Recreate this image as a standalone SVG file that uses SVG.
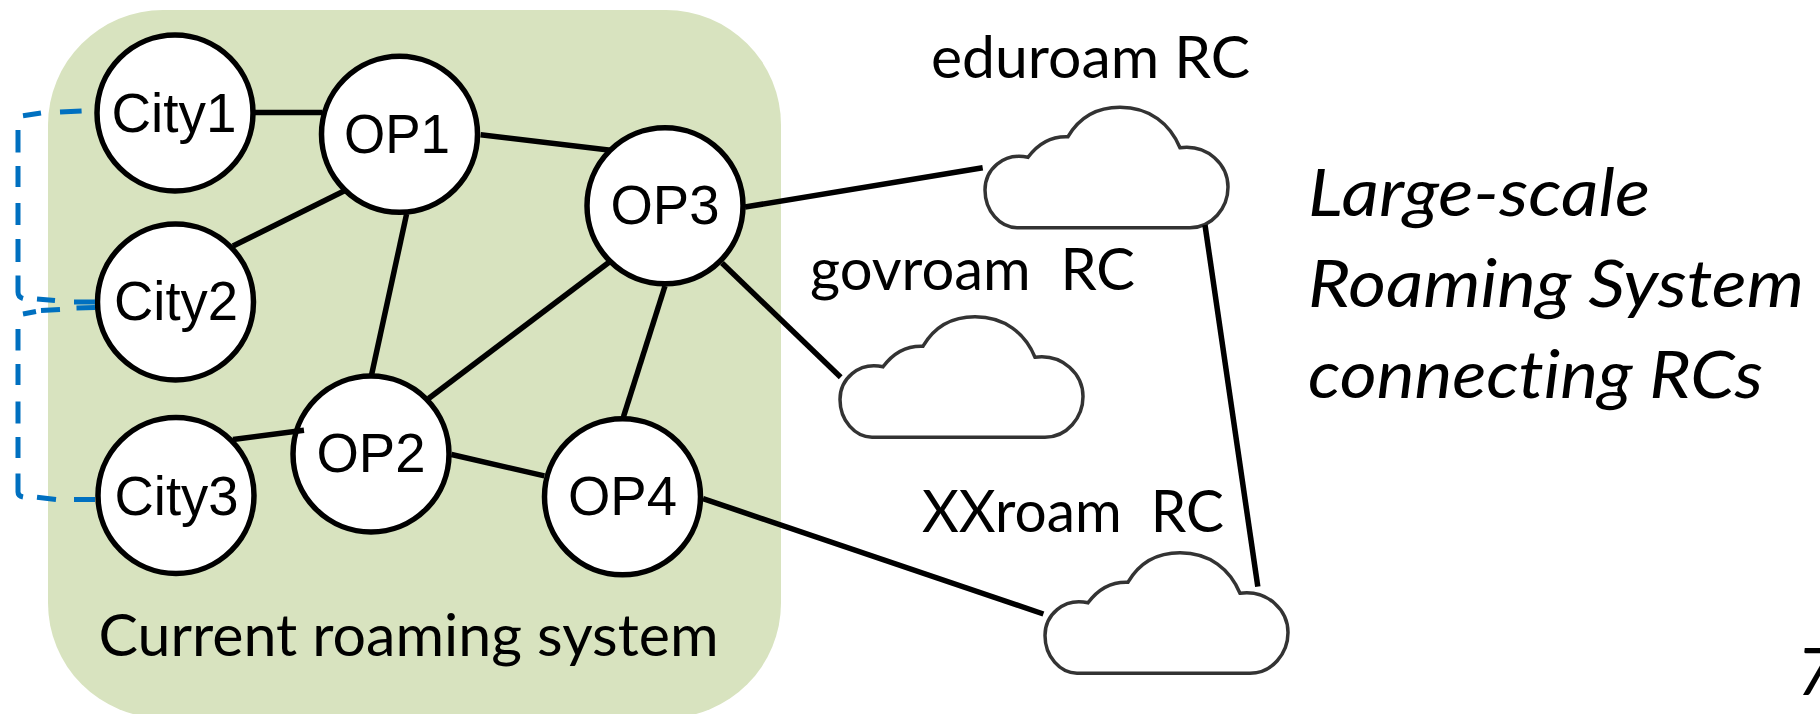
<svg xmlns="http://www.w3.org/2000/svg" width="1820" height="714" viewBox="0 0 1820 714">
<style>
.n{fill:#fff;stroke:#000;stroke-width:5.5}
.nt{font-family:"Liberation Sans",Arial,sans-serif;font-size:56px;fill:#000;text-anchor:middle}
.t{font-family:Lato,"Open Sans",sans-serif;font-size:59px;fill:#000;white-space:pre;font-variant-ligatures:none}
.i{font-style:italic;font-size:65px}
.c{stroke:#000;stroke-width:5.5;fill:none}
.d{stroke:#0070c0;stroke-width:5;fill:none}
.cl{fill:#fff;stroke:#333;stroke-width:3.5}
</style>
<defs>
<path id="cloud" d="M1017 227.7H1190C1212 227.7 1228 208 1228 187C1228 165 1208 144 1180 147.7C1170 124 1150 107.3 1120 107.3C1097 107.3 1079 118 1068 136.7C1050 136 1037 145 1028 157.3C1003 152 985 170 985 190C985 211 1000 227.7 1017 227.7Z"/>
</defs>
<rect id="system" x="48" y="10" width="733" height="708" rx="115" ry="115" fill="#d8e3bf"/>
<g id="city1"><circle class="n" cx="175" cy="113" r="78"/><text class="nt" x="174" y="132" textLength="125" lengthAdjust="spacingAndGlyphs">City1</text></g>
<g id="city2"><circle class="n" cx="175.5" cy="302" r="78"/><text class="nt" x="176" y="320" textLength="124" lengthAdjust="spacingAndGlyphs">City2</text></g>
<g id="city3"><circle class="n" cx="176" cy="495.5" r="78"/><text class="nt" x="176.5" y="514.5" textLength="124" lengthAdjust="spacingAndGlyphs">City3</text></g>
<g id="op1"><circle class="n" cx="399.5" cy="134.3" r="78"/><text class="nt" x="397" y="152.5" textLength="106" lengthAdjust="spacingAndGlyphs">OP1</text></g>
<g id="op3"><circle class="n" cx="665" cy="205.8" r="78"/><text class="nt" x="665" y="224" textLength="109" lengthAdjust="spacingAndGlyphs">OP3</text></g>
<g id="op2"><circle class="n" cx="371" cy="454" r="78"/><text class="nt" x="371" y="472" textLength="109" lengthAdjust="spacingAndGlyphs">OP2</text></g>
<g id="op4"><circle class="n" cx="622.5" cy="496.8" r="78"/><text class="nt" x="622.5" y="514.5" textLength="109" lengthAdjust="spacingAndGlyphs">OP4</text></g>
<text class="t" x="98.5" y="656" textLength="620" lengthAdjust="spacingAndGlyphs">Current roaming system</text>
<g id="eduroam"><use href="#cloud" class="cl"/><text class="t" x="931" y="78" textLength="319" lengthAdjust="spacingAndGlyphs">eduroam RC</text></g>
<g id="govroam"><use href="#cloud" class="cl" transform="translate(-145 209.5)"/><text class="t" x="810" y="290" textLength="325" lengthAdjust="spacingAndGlyphs">govroam  RC</text></g>
<g id="xxroam"><use href="#cloud" class="cl" transform="translate(60 445.5)"/><text class="t" x="922" y="532" textLength="302" lengthAdjust="spacingAndGlyphs">XXroam  RC</text></g>
<text class="t i" x="1308" y="216" textLength="342" lengthAdjust="spacingAndGlyphs">Large-scale</text>
<text class="t i" x="1308" y="307" textLength="496" lengthAdjust="spacingAndGlyphs">Roaming System</text>
<text class="t i" x="1308" y="398" textLength="455" lengthAdjust="spacingAndGlyphs">connecting RCs</text>
<text class="t i" x="1797" y="695">7</text>
<g id="connectors">
<path class="d" d="M81.6 111L60 112M41 113L23 115.7M18 130V152.5M18 166V187M18 203V225M18 239V262M18 275.5V292Q18 297 23 298.5M37 299L55 300.5M74 302H95"/>
<path class="d" d="M95 307.5L76.5 308M60 309.5L41 310.5M36 311.5L23 314M18 329V350.6M18 364V385M18 401.6V423.5M18 437V458M18 473.6V492Q18 496 23 497M37 497.3L56 499.5M74 499.5H95"/>
<path class="c" d="M255 112.5H322.5"/>
<path class="c" d="M233 246L344 191"/>
<path class="c" d="M406.6 214L371.4 375.7"/>
<path class="c" d="M480.6 134.8L610.7 150.3"/>
<path class="c" d="M609.7 261.8L428.6 398.5"/>
<path class="c" d="M665 286L623.5 416.7"/>
<path class="c" d="M451.5 454.5L544.4 475.9"/>
<path class="c" d="M233 439.4L304 430.3"/>
<path class="c" d="M745 207L982.7 167.7"/>
<path class="c" d="M722 263L840.7 377.3"/>
<path class="c" d="M703 498.6L1043.4 614"/>
<path class="c" d="M1205 225L1257.8 586.7"/>
</g>
</svg>
